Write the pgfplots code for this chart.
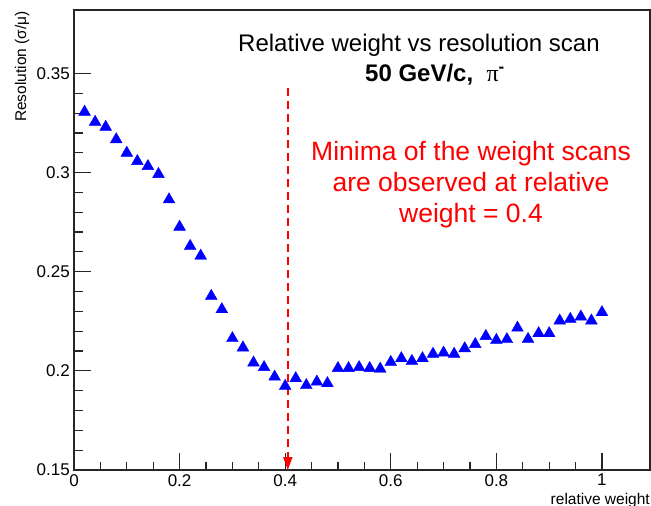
\documentclass[border=0pt]{standalone}
\usepackage{fontspec}
\setmainfont{Liberation Sans}
\newfontfamily\symbolfont{Liberation Serif}
\usepackage{pgfplots}
\usepackage{pgfplotstable}
\pgfplotsset{compat=1.18}
\usetikzlibrary{arrows.meta}

% resolution vs relative weight, 50 GeV/c pi-
\pgfplotstableread{
w     res
0.02  0.3306
0.04  0.3255
0.06  0.3230
0.08  0.3167
0.10  0.3099
0.12  0.3057
0.14  0.3032
0.16  0.2992
0.18  0.2864
0.20  0.2726
0.22  0.2629
0.24  0.2580
0.26  0.2377
0.28  0.2310
0.30  0.2164
0.32  0.2117
0.34  0.2041
0.36  0.2018
0.38  0.1970
0.40  0.1923
0.42  0.1962
0.44  0.1927
0.46  0.1945
0.48  0.1937
0.50  0.2013
0.52  0.2013
0.54  0.2018
0.56  0.2013
0.58  0.2010
0.60  0.2044
0.62  0.2063
0.64  0.2049
0.66  0.2063
0.68  0.2085
0.70  0.2091
0.72  0.2085
0.74  0.2113
0.76  0.2134
0.78  0.2175
0.80  0.2155
0.82  0.2159
0.84  0.2217
0.86  0.2160
0.88  0.2189
0.90  0.2189
0.92  0.2253
0.94  0.2261
0.96  0.2273
0.98  0.2253
1.00  0.2295
}\scan

\begin{document}
\begin{tikzpicture}
\begin{axis}[
  at={(0,0)}, anchor=south west,
  scale only axis,
  width=576bp, height=460bp,
  xmin=0, xmax=1.091,
  ymin=0.15, ymax=0.382,
  xtick={0,0.2,0.4,0.6,0.8,1},
  xticklabels={0,0.2,0.4,0.6,0.8,1},
  ytick={0.15,0.2,0.25,0.3,0.35},
  yticklabels={0.15,0.2,0.25,0.3,0.35},
  minor x tick num=3,
  minor y tick num=4,
  tick align=inside,
  tick pos=left,
  major tick length=17bp,
  minor tick length=8.5bp,
  every tick/.style={black!85, line width=1.2bp},
  axis line style={black!85, line width=1.4bp},
  tick label style={font=\fontsize{17bp}{19bp}\selectfont, text=black},
  xticklabel style={inner sep=1bp, yshift=-3bp},
  yticklabel style={inner sep=1bp, xshift=-3bp},
]
\addplot[only marks, mark=triangle*, mark size=6.8bp,
  mark options={draw=blue, fill=blue}] table[x=w, y=res] {\scan};
\draw[red, line width=2bp, dash pattern=on 8bp off 5bp,
  -{Triangle[length=13bp, width=9bp]}]
  (axis cs:0.405,0.3425) -- (axis cs:0.405,0.15);
\end{axis}

% titles
\node[anchor=base, font=\fontsize{24bp}{28bp}\selectfont, text=black]
  at (345bp,418.3bp) {Relative weight vs resolution scan};
\node[anchor=base, font=\fontsize{24bp}{28bp}\selectfont\bfseries, text=black]
  at (361bp,388.3bp) {50 GeV/c,\ \ {\symbolfont\mdseries π}\textsuperscript{-}};

% annotation
\node[anchor=base, text=red, font=\fontsize{26.5bp}{31bp}\selectfont]
  at (397bp,309.3bp) {Minima of the weight scans};
\node[anchor=base, text=red, font=\fontsize{26.5bp}{31bp}\selectfont]
  at (397bp,278.3bp) {are observed at relative};
\node[anchor=base, text=red, font=\fontsize{26.5bp}{31bp}\selectfont]
  at (397bp,247.3bp) {weight = 0.4};

% axis titles
\node[anchor=base east, font=\fontsize{15.5bp}{18bp}\selectfont, text=black, inner sep=0pt]
  at (576bp,-34bp) {relative weight};
\node[rotate=90, anchor=east, font=\fontsize{15.5bp}{18bp}\selectfont, text=black, inner sep=0pt]
  at (-52bp,459bp) {Resolution (σ/μ)};

\pgfresetboundingbox
\path[use as bounding box] (-74bp,-36bp) rectangle (577bp,470bp);
\end{tikzpicture}
\end{document}
